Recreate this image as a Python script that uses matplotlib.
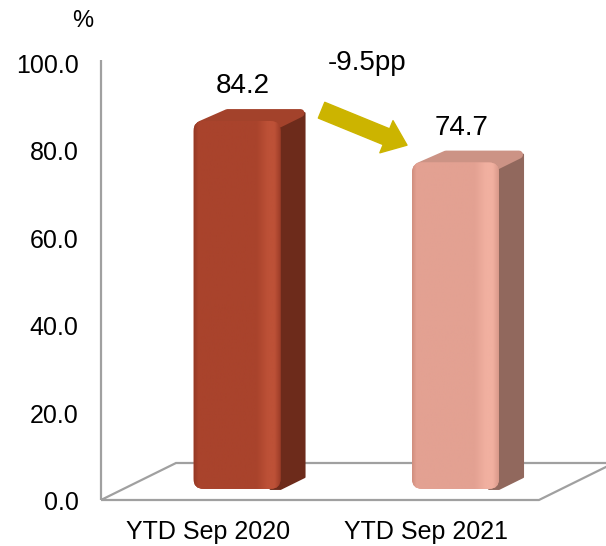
import numpy as np
import matplotlib.pyplot as plt
from matplotlib.patches import FancyBboxPatch, Polygon
from matplotlib.colors import LinearSegmentedColormap

categories = ["YTD Sep 2020", "YTD Sep 2021"]
values = [84.2, 74.7]
change_label = "-9.5pp"
yticks = [0, 20, 40, 60, 80, 100]

# per-bar shading: left edge, face, highlight, right edge, side, top
bar_shades = [
    ["#953925", "#A9432C", "#BD5137", "#9A3B27", "#6D2B1B", "#A3422B"],
    ["#D08E7E", "#E3A192", "#F1B0A0", "#D9998A", "#91685D", "#CC9385"],
]
arrow_color = "#CCB400"
line_color = "#A0A0A0"

plt.rcParams['font.family'] = ['Liberation Sans', 'DejaVu Sans']

# screen scale of the fake 3D layout
px_cat = 218.5          # pixels per category step
px_val = 4.37           # pixels per value unit
depth_dx = 75 / px_cat  # full floor depth, x
depth_dy = 37 / px_val  # full floor depth, y
bar_w = 87 / px_cat
front_d = 0.3           # depth where bar front sits
bar_d = 0.32            # bar thickness in depth
radius = 10 / px_cat
inset_x = 4 / px_cat    # top face is shrunk, then re-grown by a round edge
inset_y = 4 / px_val

fig = plt.figure(figsize=(6.06, 5.46), dpi=100)
ax = fig.add_axes([0, 0, 1, 1])
ax.axis('off')

# floor outline
fl, fr = -0.5195, 1.485
floor = Polygon([(fl, 0), (fr, 0), (fr + depth_dx, depth_dy), (fl + depth_dx, depth_dy)],
                closed=True, fill=False, edgecolor=line_color, lw=1.6, zorder=1)
ax.add_patch(floor)
# value axis
ax.plot([fl, fl], [0, 100.7], color=line_color, lw=1.6, zorder=1, solid_capstyle='butt')

for v in yticks:
    ax.text(-0.6224, v - 2.3, f"{v:.1f}", ha='right', va='baseline', fontsize=18)
ax.text(-0.602, 108.3, "%", ha='center', va='baseline', fontsize=17)

for i, (cat, val) in enumerate(zip(categories, values)):
    left_c, face_c, hi_c, right_c, side_c, top_c = bar_shades[i]
    ox, oy = front_d * depth_dx, front_d * depth_dy
    sx, sy = bar_d * depth_dx, bar_d * depth_dy
    x0 = i - bar_w / 2 + ox
    x1 = i + bar_w / 2 + ox
    y0 = oy
    y1 = val + oy

    side = Polygon([(x1 - radius, y0), (x1, y0), (x1 + sx, y0 + sy), (x1 + sx, y1 + sy - inset_y),
                    (x1, y1), (x1 - radius, y1)],
                   closed=True, facecolor=side_c, edgecolor=side_c, lw=1.5,
                   joinstyle='round', zorder=2)
    ax.add_patch(side)
    top = Polygon([(x0 + inset_x + radius * 0.3, y1 - inset_y), (x1 - inset_x, y1 - inset_y),
                   (x1 + sx - inset_x, y1 + sy - inset_y), (x0 + sx + radius, y1 + sy - inset_y)],
                  closed=True, facecolor=top_c, edgecolor=top_c, lw=5.8,
                  joinstyle='round', zorder=2)
    ax.add_patch(top)

    front = FancyBboxPatch((x0, y0), x1 - x0, y1 - y0,
                           boxstyle=f"round,pad=0,rounding_size={radius}",
                           mutation_aspect=px_cat / px_val,
                           facecolor=face_c, edgecolor='none', zorder=3)
    ax.add_patch(front)
    cmap = LinearSegmentedColormap.from_list(
        f"bar{i}", [(0, left_c), (0.05, face_c), (0.72, face_c), (0.85, hi_c),
                    (0.93, hi_c), (1.0, right_c)])
    grad = np.linspace(0, 1, 256).reshape(1, -1)
    im = ax.imshow(grad, extent=[x0, x1, y0, y1], aspect='auto', cmap=cmap,
                   interpolation='bilinear', zorder=4)
    im.set_clip_path(front)

    ax.text(i + 0.13, val + 8.9, f"{val:.1f}", ha='center', va='baseline', fontsize=20)
    ax.text(i - 0.03, -9.0, cat, ha='center', va='baseline', fontsize=18)

# change arrow between the two bars
ax.annotate("", xy=(0.881, values[1] + 6.5), xytext=(0.49, values[0] + 5.0),
            arrowprops=dict(arrowstyle="simple,head_length=0.64,head_width=1.0,tail_width=0.49",
                            mutation_scale=25, color=arrow_color, shrinkA=0, shrinkB=0),
            zorder=5)
ax.text(0.698, 98.4, change_label, ha='center', va='baseline', fontsize=20)

ax.set_xlim(-214.5 / px_cat, (606 - 214.5) / px_cat)
ax.set_ylim((500 - 546) / px_val, 500 / px_val)

fig.savefig("out.png", dpi=100)
